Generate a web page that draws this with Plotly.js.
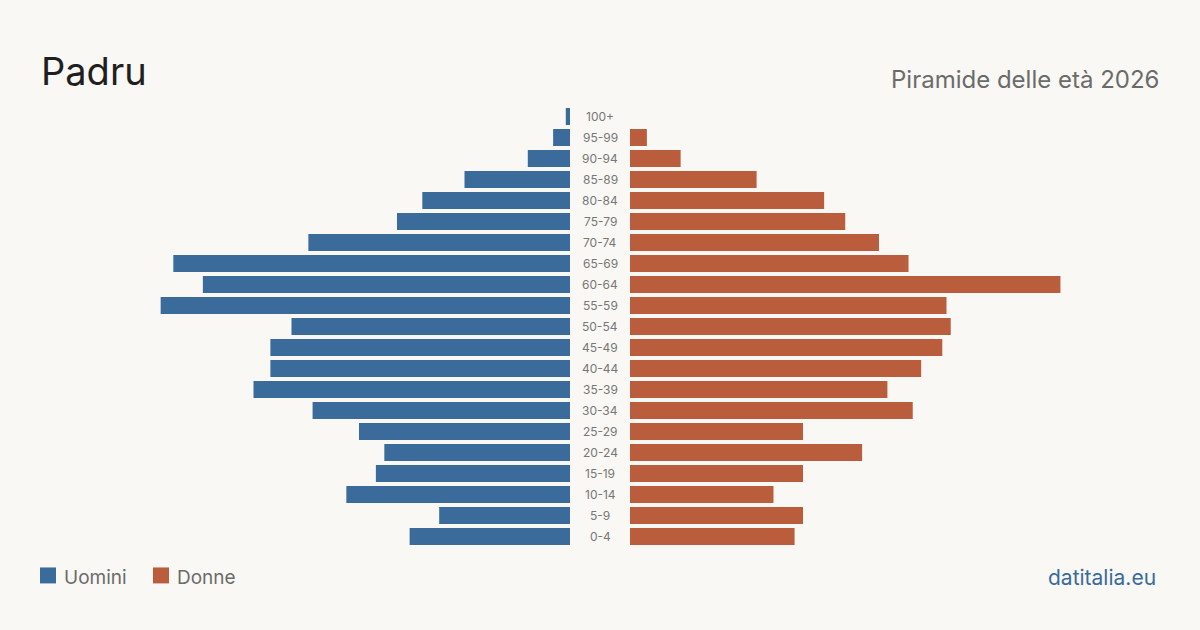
<!DOCTYPE html>
<html>
<head>
<meta charset="utf-8">
<script src="https://cdn.plot.ly/plotly-3.0.1.min.js"></script>
<style>
  html, body { margin: 0; padding: 0; background: #f9f8f4; }
  #chart { width: 1200px; height: 630px; }
</style>
</head>
<body>
<div id="chart"></div>
<script>
// Age classes, bottom to top
const ageGroups = ["0-4","5-9","10-14","15-19","20-24","25-29","30-34","35-39","40-44","45-49","50-54","55-59","60-64","65-69","70-74","75-79","80-84","85-89","90-94","95-99","100+"];
// Residents by age class
const men   = [38, 31, 53, 46, 44, 50, 61, 75, 71, 71, 66, 97, 87, 94, 62, 41, 35, 25, 10, 4, 1];
const women = [39, 41, 34, 41, 55, 41, 67, 61, 69, 74, 76, 75, 102, 66, 59, 51, 46, 30, 12, 4, 0];
const seriesNames = ["Uomini", "Donne"];
const titleText = "Padru";
const subtitleText = "Piramide delle età 2026";
const sourceText = "datitalia.eu";

const BLUE = "#3b6b9b", ORANGE = "#b95d3c", BG = "#f9f8f4";
const W = 1200, H = 630;
const M = { l: 0, r: 0, t: 105.5, b: 82.5 };
const plotH = H - M.t - M.b;
const maxRange = 570 / 4.22;

// convert a figure pixel row to the plot-area paper fraction used by Plotly
function py(px) { return (H - M.b - px) / plotH; }
function pxx(px) { return px / W; }

const traces = [
  { type: "bar", orientation: "h", x: men, y: ageGroups, name: seriesNames[0],
    marker: { color: BLUE }, xaxis: "x", yaxis: "y", hoverinfo: "x+y" },
  { type: "bar", orientation: "h", x: women, y: ageGroups, name: seriesNames[1],
    marker: { color: ORANGE }, xaxis: "x2", yaxis: "y2", hoverinfo: "x+y" }
];

const FONT = "Inter, 'DejaVu Sans', sans-serif";

const annotations = ageGroups.map(g => ({
  xref: "paper", yref: "y", x: 0.5, y: g, text: g, showarrow: false,
  xanchor: "center", yanchor: "middle",
  font: { family: FONT, size: 12, color: "#777" }
}));

annotations.push(
  { xref: "paper", yref: "paper", x: pxx(39), y: py(70), text: titleText, showarrow: false,
    xanchor: "left", yanchor: "middle", font: { family: "Inter, 'Liberation Sans', sans-serif", size: 38, color: "#1f1f1f" } },
  { xref: "paper", yref: "paper", x: pxx(1161), y: py(79), text: subtitleText, showarrow: false,
    xanchor: "right", yanchor: "middle", font: { family: FONT, size: 24, color: "#6b6b6b" } },
  { xref: "paper", yref: "paper", x: pxx(62), y: py(578), text: seriesNames[0], showarrow: false,
    xanchor: "left", yanchor: "middle", font: { family: FONT, size: 19, color: "#6b6b6b" } },
  { xref: "paper", yref: "paper", x: pxx(175), y: py(578), text: seriesNames[1], showarrow: false,
    xanchor: "left", yanchor: "middle", font: { family: FONT, size: 19, color: "#6b6b6b" } },
  { xref: "paper", yref: "paper", x: pxx(1158), y: py(578), text: sourceText, showarrow: false,
    xanchor: "right", yanchor: "middle", font: { family: FONT, size: 21, color: BLUE } }
);

const shapes = [
  { type: "rect", xref: "paper", yref: "paper", x0: pxx(40), x1: pxx(56), y0: py(584), y1: py(568),
    fillcolor: BLUE, line: { width: 0 } },
  { type: "rect", xref: "paper", yref: "paper", x0: pxx(153), x1: pxx(169), y0: py(584), y1: py(568),
    fillcolor: ORANGE, line: { width: 0 } }
];

const axisCommon = { showgrid: false, zeroline: false, showticklabels: false, ticks: "", showline: false, fixedrange: true };

const layout = {
  width: W, height: H,
  paper_bgcolor: BG, plot_bgcolor: BG,
  margin: M,
  showlegend: false,
  bargap: 0.19,
  xaxis:  Object.assign({}, axisCommon, { domain: [0, 570/W], range: [maxRange, 0] }),
  xaxis2: Object.assign({}, axisCommon, { domain: [630/W, 1], range: [0, maxRange], anchor: "y2" }),
  yaxis:  Object.assign({}, axisCommon, { type: "category", categoryorder: "array", categoryarray: ageGroups, range: [-0.5, 20.5] }),
  yaxis2: Object.assign({}, axisCommon, { type: "category", categoryorder: "array", categoryarray: ageGroups, range: [-0.5, 20.5], anchor: "x2", matches: "y" }),
  annotations: annotations,
  shapes: shapes
};

Plotly.newPlot("chart", traces, layout, { displayModeBar: false, staticPlot: true });
</script>
</body>
</html>
